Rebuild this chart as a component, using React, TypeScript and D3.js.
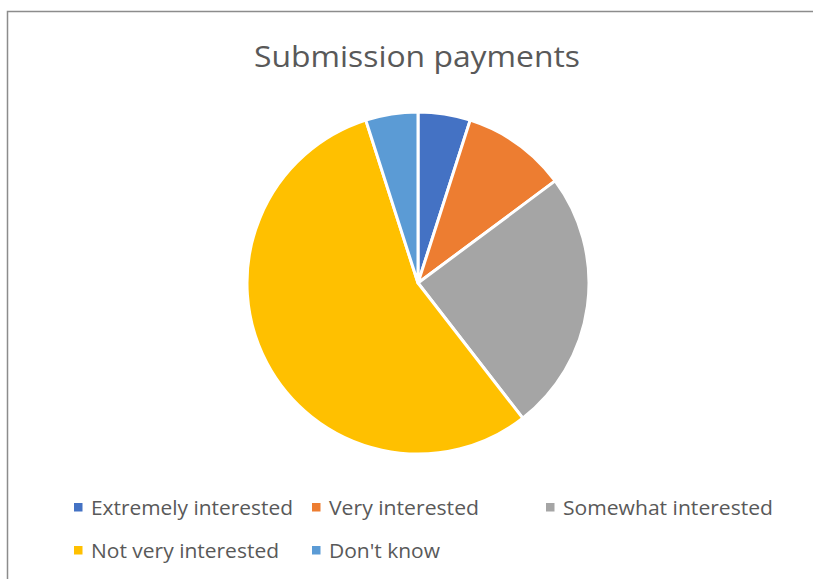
import React from "react";
import * as d3 from "d3";

const categories = ["Extremely interested", "Very interested", "Somewhat interested", "Not very interested", "Don't know"];
const values = [4, 8, 20, 45, 4];
const colors = ["#4472C4", "#ED7D31", "#A5A5A5", "#FFC000", "#5B9BD5"];
const title = "Submission payments";

const legendPos = [
  { x: 74, y: 508, w: 202 },
  { x: 312, y: 508, w: 150 },
  { x: 546, y: 508, w: 210 },
  { x: 74, y: 551, w: 188 },
  { x: 312, y: 551, w: 111 },
];

export default function App() {
  const W = 813, H = 579;
  const cx = 418, cy = 283, r = 171;
  const pie = d3.pie<number>().sort(null).value((d) => d)(values);
  const arc = d3.arc<d3.PieArcDatum<number>>().innerRadius(0).outerRadius(r);
  const font = "'Open Sans', 'Noto Sans', sans-serif";
  return (
    <svg width={W} height={H} style={{ position: "absolute", left: 0, top: 0 }}>
      <rect x={0} y={0} width={W} height={H} fill="#fff" />
      <rect x={7.5} y={11.5} width={W + 20} height={H + 20} fill="#fff" stroke="#8c8c8c" strokeWidth={1.5} />
      <text x={417} y={67} textAnchor="middle" fontFamily={font} fontSize={30} fill="#595959" textLength={326} lengthAdjust="spacingAndGlyphs">
        {title}
      </text>
      <g transform={`translate(${cx},${cy})`}>
        {pie.map((p, i) => (
          <path key={i} d={arc(p) || ""} fill={colors[i]} stroke="#fff" strokeWidth={3} strokeLinejoin="round" />
        ))}
      </g>
      {categories.map((c, i) => {
        const lp = legendPos[i];
        return (
          <g key={c}>
            <rect x={lp.x} y={lp.y - 5} width={8.5} height={8.5} fill={colors[i]} />
            <text x={lp.x + 17} y={lp.y + 7} fontFamily={font} fontSize={20} fill="#595959" textLength={lp.w} lengthAdjust="spacingAndGlyphs">
              {c}
            </text>
          </g>
        );
      })}
    </svg>
  );
}
